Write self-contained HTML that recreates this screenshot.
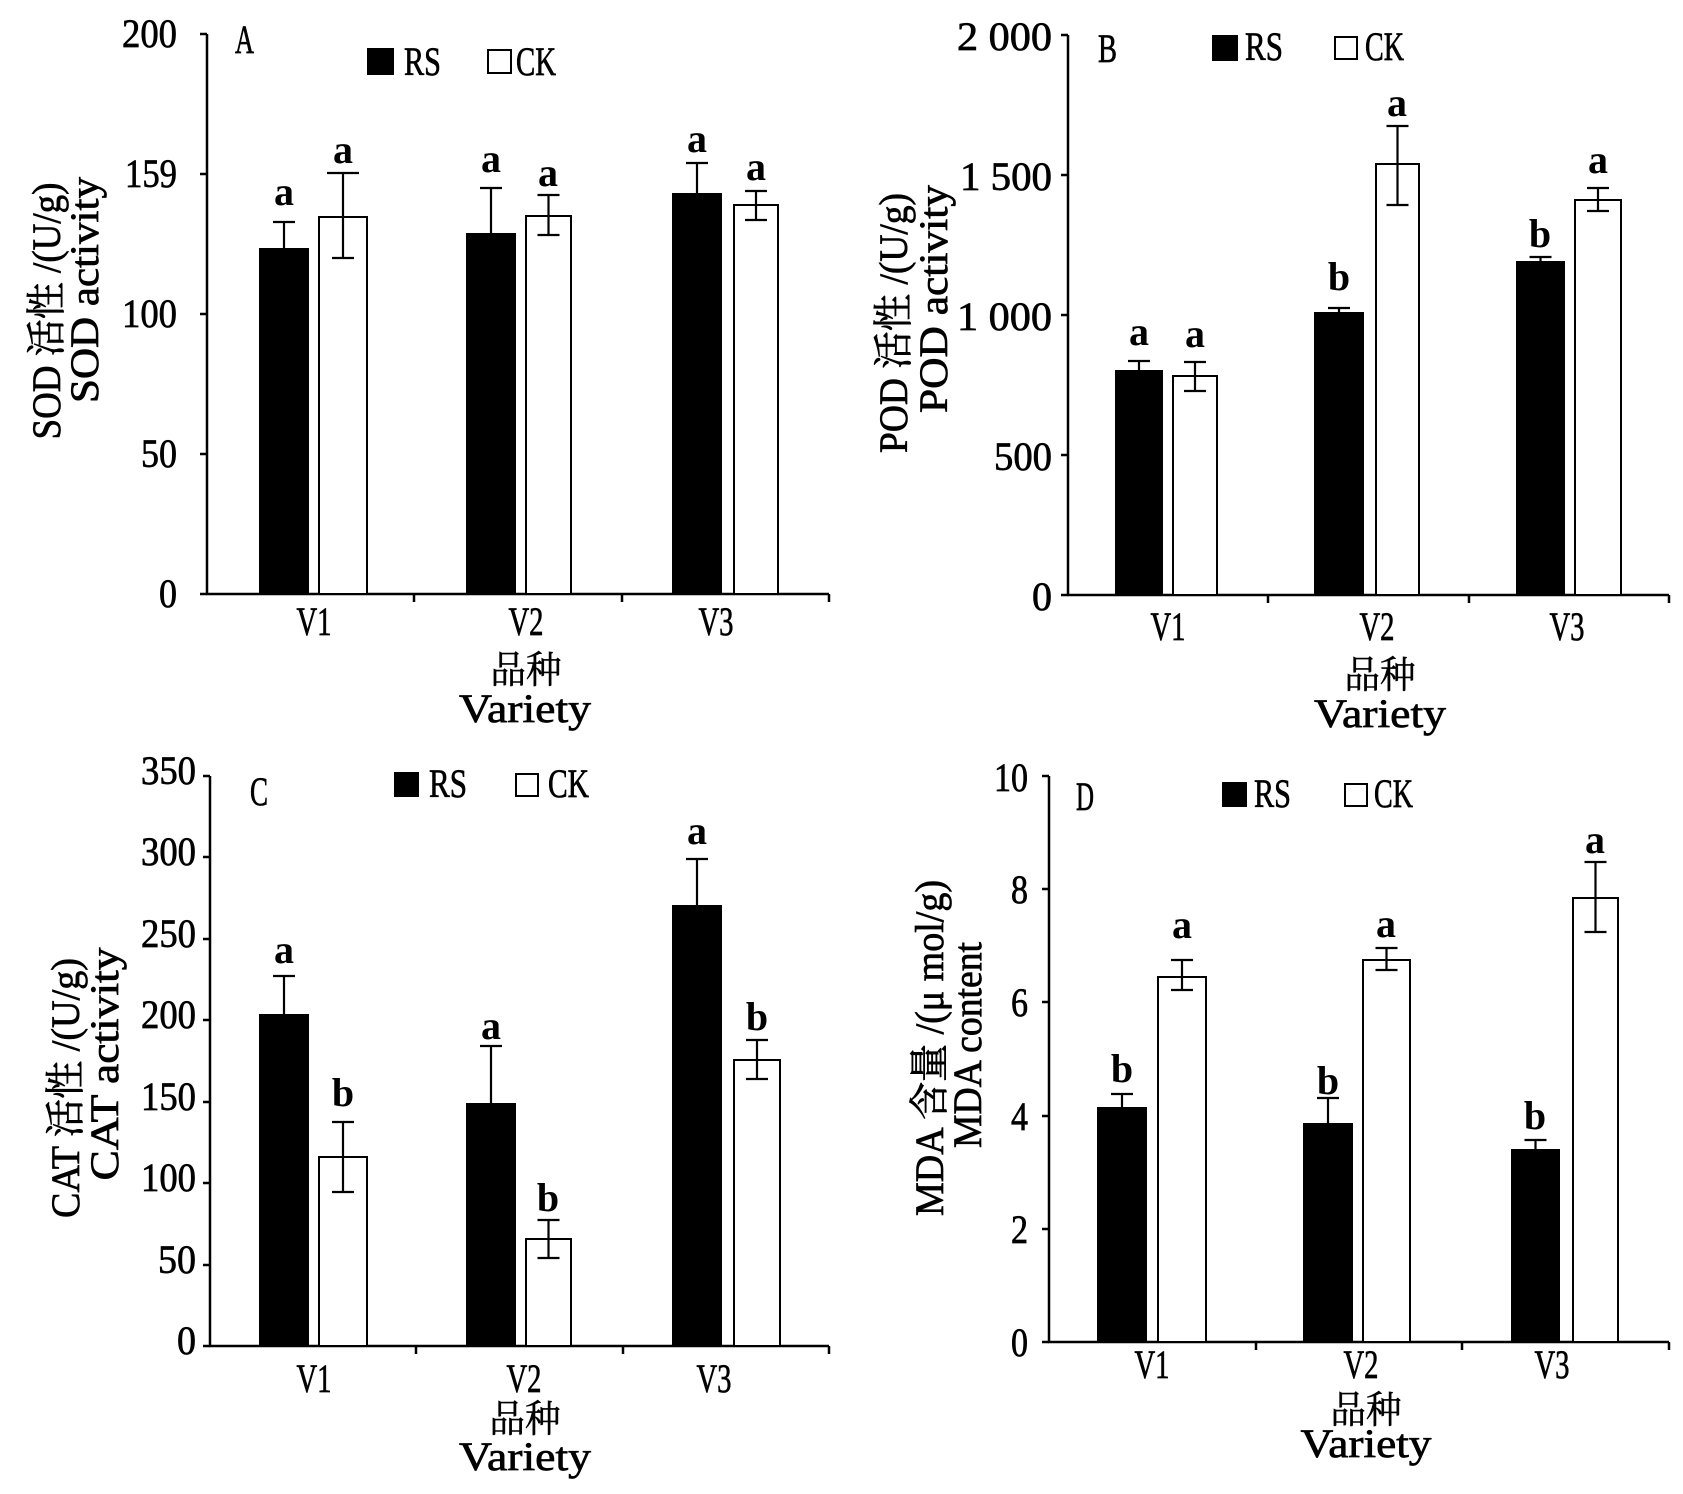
<!DOCTYPE html>
<html><head><meta charset="utf-8"><style>
html,body{margin:0;padding:0;background:#fff}
svg{display:block}
text{font-family:"Liberation Serif","Noto Serif CJK SC",serif;fill:#000}
.n{font-size:40px;stroke:#000;stroke-width:0.7px}
.l{font-size:40px;font-weight:bold}
.c{font-size:38px;stroke:#000;stroke-width:0.5px}
</style></head><body>
<svg width="1683" height="1494" viewBox="0 0 1683 1494" xmlns="http://www.w3.org/2000/svg">
<g stroke="#000" stroke-width="2.5" fill="none">
<path d="M207 34V594H829"/>
<path d="M200 34H207M200 174H207M200 314H207M200 454H207M200 594H207M414 594v8M622 594v8M829 594v8"/>
<path d="M1068 35V595H1669"/>
<path d="M1061 35H1068M1061 175H1068M1061 315H1068M1061 455H1068M1061 595H1068M1268 595v8M1469 595v8M1669 595v8"/>
<path d="M210 776V1346H829"/>
<path d="M203 776H210M203 857H210M203 939H210M203 1020H210M203 1102H210M203 1183H210M203 1265H210M203 1346H210M416 1346v8M623 1346v8M829 1346v8"/>
<path d="M1049 776V1342H1669"/>
<path d="M1042 776H1049M1042 889H1049M1042 1002H1049M1042 1116H1049M1042 1229H1049M1042 1342H1049M1256 1342v8M1462 1342v8M1669 1342v8"/>
</g>

<g stroke="#000" stroke-width="2">
<rect x="260" y="249" width="48" height="345" fill="#000"/>
<rect x="319" y="217" width="48" height="377" fill="#fff"/>
<rect x="467" y="234" width="48" height="360" fill="#000"/>
<rect x="526" y="216" width="45" height="378" fill="#fff"/>
<rect x="673" y="194" width="48" height="400" fill="#000"/>
<rect x="734" y="205" width="44" height="389" fill="#fff"/>
<rect x="1116" y="371" width="46" height="224" fill="#000"/>
<rect x="1173" y="376" width="44" height="219" fill="#fff"/>
<rect x="1315" y="313" width="48" height="282" fill="#000"/>
<rect x="1376" y="164" width="43" height="431" fill="#fff"/>
<rect x="1517" y="262" width="47" height="333" fill="#000"/>
<rect x="1575" y="200" width="46" height="395" fill="#fff"/>
<rect x="260" y="1015" width="48" height="331" fill="#000"/>
<rect x="319" y="1157" width="48" height="189" fill="#fff"/>
<rect x="467" y="1104" width="48" height="242" fill="#000"/>
<rect x="526" y="1239" width="45" height="107" fill="#fff"/>
<rect x="673" y="906" width="48" height="440" fill="#000"/>
<rect x="734" y="1060" width="46" height="286" fill="#fff"/>
<rect x="1098" y="1108" width="48" height="234" fill="#000"/>
<rect x="1158" y="977" width="48" height="365" fill="#fff"/>
<rect x="1304" y="1124" width="48" height="218" fill="#000"/>
<rect x="1363" y="960" width="47" height="382" fill="#fff"/>
<rect x="1512" y="1150" width="47" height="192" fill="#000"/>
<rect x="1573" y="898" width="45" height="444" fill="#fff"/>
</g>

<g stroke="#000" stroke-width="2.2" fill="none">
<path d="M284 222V249M273 222H295"/>
<path d="M343 173V258M327 173H359M332 258H354"/>
<path d="M491 188V234M480 188H502"/>
<path d="M548.5 195V235M537.5 195H559.5M537.5 235H559.5"/>
<path d="M697 163V194M686 163H708"/>
<path d="M756 191V220M745 191H767M745 220H767"/>
<path d="M1139 361V371M1128 361H1150"/>
<path d="M1195 362V391M1184 362H1206M1184 391H1206"/>
<path d="M1339 308V313M1328 308H1350"/>
<path d="M1397.5 126V205M1386.5 126H1408.5M1386.5 205H1408.5"/>
<path d="M1540.5 257V262M1529.5 257H1551.5"/>
<path d="M1598 188V211M1587 188H1609M1587 211H1609"/>
<path d="M284 976V1015M273 976H295"/>
<path d="M343 1122V1192M332 1122H354M332 1192H354"/>
<path d="M491 1046V1104M480 1046H502"/>
<path d="M548.5 1220V1258M537.5 1220H559.5M537.5 1258H559.5"/>
<path d="M697 859V906M686 859H708"/>
<path d="M757 1040V1079M746 1040H768M746 1079H768"/>
<path d="M1122 1094V1108M1111 1094H1133"/>
<path d="M1182 960V990M1171 960H1193M1171 990H1193"/>
<path d="M1328 1098V1124M1317 1098H1339"/>
<path d="M1386.5 948V970M1375.5 948H1397.5M1375.5 970H1397.5"/>
<path d="M1535.5 1140V1150M1524.5 1140H1546.5"/>
<path d="M1595.5 862V932M1584.5 862H1606.5M1584.5 932H1606.5"/>
</g>

<g stroke="#000" stroke-width="2">
<rect x="368" y="49" width="25" height="25" fill="#000"/>
<rect x="488" y="50" width="23" height="23" fill="#fff"/>
<rect x="1213" y="36" width="24" height="24" fill="#000"/>
<rect x="1335" y="37" width="22" height="22" fill="#fff"/>
<rect x="395" y="773" width="23" height="23" fill="#000"/>
<rect x="516" y="774" width="22" height="22" fill="#fff"/>
<rect x="1223" y="783" width="23" height="23" fill="#000"/>
<rect x="1345" y="784" width="22" height="22" fill="#fff"/>
</g>
<g class="n">
<text x="404" y="75" textLength="37" lengthAdjust="spacingAndGlyphs">RS</text>
<text x="516" y="75" textLength="40" lengthAdjust="spacingAndGlyphs">CK</text>
<text x="1245" y="60" textLength="38" lengthAdjust="spacingAndGlyphs">RS</text>
<text x="1365" y="60" textLength="39" lengthAdjust="spacingAndGlyphs">CK</text>
<text x="429" y="797" textLength="38" lengthAdjust="spacingAndGlyphs">RS</text>
<text x="548" y="797" textLength="41" lengthAdjust="spacingAndGlyphs">CK</text>
<text x="1254" y="807" textLength="37" lengthAdjust="spacingAndGlyphs">RS</text>
<text x="1374" y="807" textLength="39" lengthAdjust="spacingAndGlyphs">CK</text>
</g>

<g class="n">
<text x="235" y="53" textLength="19" lengthAdjust="spacingAndGlyphs">A</text>
<text x="1098" y="62" textLength="19" lengthAdjust="spacingAndGlyphs">B</text>
<text x="250" y="805" textLength="18" lengthAdjust="spacingAndGlyphs">C</text>
<text x="1076" y="810" textLength="18" lengthAdjust="spacingAndGlyphs">D</text>
</g>

<g class="n" text-anchor="end">
<text x="177" y="47" textLength="55" lengthAdjust="spacingAndGlyphs">200</text>
<text x="177" y="187" textLength="52" lengthAdjust="spacingAndGlyphs">159</text>
<text x="177" y="327" textLength="55" lengthAdjust="spacingAndGlyphs">100</text>
<text x="177" y="467" textLength="36" lengthAdjust="spacingAndGlyphs">50</text>
<text x="177" y="607" textLength="18" lengthAdjust="spacingAndGlyphs">0</text>
<text x="1052" y="50" textLength="95" lengthAdjust="spacingAndGlyphs">2 000</text>
<text x="1052" y="190" textLength="92" lengthAdjust="spacingAndGlyphs">1 500</text>
<text x="1052" y="330" textLength="95" lengthAdjust="spacingAndGlyphs">1 000</text>
<text x="1052" y="470" textLength="58" lengthAdjust="spacingAndGlyphs">500</text>
<text x="1052" y="610" textLength="20" lengthAdjust="spacingAndGlyphs">0</text>
<text x="196" y="784" textLength="55" lengthAdjust="spacingAndGlyphs">350</text>
<text x="196" y="865" textLength="55" lengthAdjust="spacingAndGlyphs">300</text>
<text x="196" y="947" textLength="55" lengthAdjust="spacingAndGlyphs">250</text>
<text x="196" y="1028" textLength="55" lengthAdjust="spacingAndGlyphs">200</text>
<text x="196" y="1110" textLength="55" lengthAdjust="spacingAndGlyphs">150</text>
<text x="196" y="1191" textLength="55" lengthAdjust="spacingAndGlyphs">100</text>
<text x="196" y="1273" textLength="38" lengthAdjust="spacingAndGlyphs">50</text>
<text x="196" y="1354" textLength="19" lengthAdjust="spacingAndGlyphs">0</text>
<text x="1028" y="791" textLength="34" lengthAdjust="spacingAndGlyphs">10</text>
<text x="1028" y="903" textLength="17" lengthAdjust="spacingAndGlyphs">8</text>
<text x="1028" y="1016" textLength="17" lengthAdjust="spacingAndGlyphs">6</text>
<text x="1028" y="1130" textLength="17" lengthAdjust="spacingAndGlyphs">4</text>
<text x="1028" y="1243" textLength="17" lengthAdjust="spacingAndGlyphs">2</text>
<text x="1028" y="1356" textLength="17" lengthAdjust="spacingAndGlyphs">0</text>
</g>

<g class="l" text-anchor="middle">
<text x="284" y="205">a</text>
<text x="343" y="163">a</text>
<text x="491" y="172">a</text>
<text x="548" y="186">a</text>
<text x="697" y="152">a</text>
<text x="756" y="180">a</text>
<text x="1139" y="345">a</text>
<text x="1195" y="347">a</text>
<text x="1339" y="290">b</text>
<text x="1397" y="116">a</text>
<text x="1540" y="247">b</text>
<text x="1598" y="173">a</text>
<text x="284" y="963">a</text>
<text x="343" y="1106">b</text>
<text x="491" y="1039">a</text>
<text x="548" y="1211">b</text>
<text x="697" y="844">a</text>
<text x="757" y="1030">b</text>
<text x="1122" y="1082">b</text>
<text x="1182" y="938">a</text>
<text x="1328" y="1094">b</text>
<text x="1386" y="937">a</text>
<text x="1535" y="1129">b</text>
<text x="1595" y="853">a</text>
</g>

<g class="n" text-anchor="middle">
<text x="314" y="635" textLength="35" lengthAdjust="spacingAndGlyphs">V1</text>
<text x="526" y="635" textLength="35" lengthAdjust="spacingAndGlyphs">V2</text>
<text x="716" y="635" textLength="35" lengthAdjust="spacingAndGlyphs">V3</text>
<text x="1168" y="640" textLength="35" lengthAdjust="spacingAndGlyphs">V1</text>
<text x="1377" y="640" textLength="35" lengthAdjust="spacingAndGlyphs">V2</text>
<text x="1567" y="640" textLength="35" lengthAdjust="spacingAndGlyphs">V3</text>
<text x="314" y="1392" textLength="35" lengthAdjust="spacingAndGlyphs">V1</text>
<text x="524" y="1392" textLength="35" lengthAdjust="spacingAndGlyphs">V2</text>
<text x="714" y="1392" textLength="35" lengthAdjust="spacingAndGlyphs">V3</text>
<text x="1152" y="1378" textLength="35" lengthAdjust="spacingAndGlyphs">V1</text>
<text x="1361" y="1378" textLength="35" lengthAdjust="spacingAndGlyphs">V2</text>
<text x="1552" y="1378" textLength="35" lengthAdjust="spacingAndGlyphs">V3</text>
<text class="c" x="526" y="683" textLength="71" lengthAdjust="spacingAndGlyphs">品种</text>
<text x="525" y="722" textLength="132" lengthAdjust="spacingAndGlyphs">Variety</text>
<text class="c" x="1380" y="688" textLength="71" lengthAdjust="spacingAndGlyphs">品种</text>
<text x="1380" y="727" textLength="132" lengthAdjust="spacingAndGlyphs">Variety</text>
<text class="c" x="525" y="1432" textLength="71" lengthAdjust="spacingAndGlyphs">品种</text>
<text x="525" y="1470" textLength="132" lengthAdjust="spacingAndGlyphs">Variety</text>
<text class="c" x="1366" y="1423" textLength="71" lengthAdjust="spacingAndGlyphs">品种</text>
<text x="1366" y="1457" textLength="131" lengthAdjust="spacingAndGlyphs">Variety</text>
</g>

<g class="n" text-anchor="middle">
<text transform="translate(60 311) rotate(-90)" textLength="257" lengthAdjust="spacingAndGlyphs">SOD 活性 /(U/g)</text>
<text transform="translate(98 290) rotate(-90)" textLength="226" lengthAdjust="spacingAndGlyphs">SOD activity</text>
<text transform="translate(907 323) rotate(-90)" textLength="260" lengthAdjust="spacingAndGlyphs">POD 活性 /(U/g)</text>
<text transform="translate(947 299) rotate(-90)" textLength="228" lengthAdjust="spacingAndGlyphs">POD activity</text>
<text transform="translate(79 1088) rotate(-90)" textLength="260" lengthAdjust="spacingAndGlyphs">CAT 活性 /(U/g)</text>
<text transform="translate(118 1064) rotate(-90)" textLength="233" lengthAdjust="spacingAndGlyphs">CAT activity</text>
<text transform="translate(943 1048) rotate(-90)" textLength="336" lengthAdjust="spacingAndGlyphs">MDA 含量 /(μ mol/g)</text>
<text transform="translate(981 1045) rotate(-90)" textLength="206" lengthAdjust="spacingAndGlyphs">MDA content</text>
</g>
</svg>
</body></html>
